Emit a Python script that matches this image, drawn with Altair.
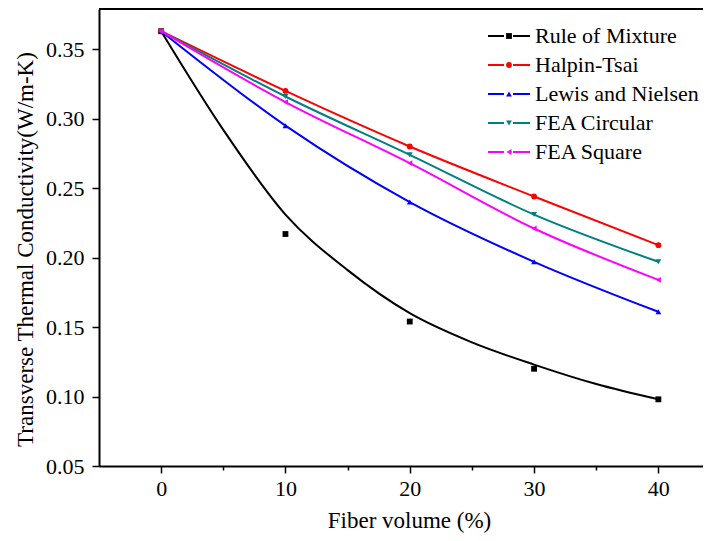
import altair as alt
import pandas as pd

# ---- data ----
x_vals = [0, 10, 20, 30, 40]
series_names = ["Rule of Mixture", "Halpin-Tsai", "Lewis and Nielsen", "FEA Circular", "FEA Square"]
rule_of_mixture = [0.363, 0.217, 0.154, 0.120, 0.098]
halpin_tsai = [0.363, 0.320, 0.280, 0.244, 0.209]
lewis_nielsen = [0.363, 0.295, 0.240, 0.197, 0.161]
fea_circular = [0.363, 0.316, 0.274, 0.231, 0.197]
fea_square = [0.363, 0.312, 0.268, 0.221, 0.184]

# fitted curve through the Rule of Mixture points
fit_x = [0, 5, 10, 15, 20, 25, 30, 35, 40]
fit_y = [0.363, 0.292, 0.231, 0.191, 0.160, 0.139, 0.123, 0.109, 0.098]

colors = ["#000000", "#ff0000", "#0000ff", "#008080", "#ff00ff"]
shapes = ["square", "circle", "triangle-up", "triangle-down", "triangle-left"]

x_ticks = [0, 5, 10, 15, 20, 25, 30, 35, 40]
y_ticks = [0.05, 0.075, 0.10, 0.125, 0.15, 0.175, 0.20, 0.225, 0.25, 0.275, 0.30, 0.325, 0.35, 0.375]

# ---- build tables ----
rows = []
for name, vals in zip(series_names, [rule_of_mixture, halpin_tsai, lewis_nielsen, fea_circular, fea_square]):
    for xv, yv in zip(x_vals, vals):
        rows.append({"series": name, "x": xv, "y": yv})
df = pd.DataFrame(rows)
fit_df = pd.DataFrame({"x": fit_x, "y": fit_y})

W, H = 604, 457
FONT = "Times New Roman, Liberation Serif, serif"

xscale = alt.Scale(domain=[-5, 43.59], nice=False, zero=False)
yscale = alt.Scale(domain=[0.05, 0.379], nice=False, zero=False)
color = alt.Color("series:N", scale=alt.Scale(domain=series_names, range=colors), legend=None)
shape = alt.Shape("series:N", scale=alt.Scale(domain=series_names, range=shapes), legend=None)

x_axis = alt.Axis(
    values=x_ticks,
    labelExpr="datum.value % 10 === 0 ? datum.label : ''",
    tickSize={"condition": {"test": "datum.value % 10 === 0", "value": 7}, "value": 4},
    title="Fiber volume (%)",
    labelPadding=5,
    titlePadding=10,
    titleX=310,
)
y_axis = alt.Axis(
    values=y_ticks,
    labelExpr="round(datum.value*1000) % 50 === 0 ? format(datum.value, '.2f') : ''",
    tickSize={"condition": {"test": "round(datum.value*1000) % 50 === 0", "value": 7}, "value": 4},
    title="Transverse Thermal Conductivity(W/m-K)",
    labelPadding=8,
    titlePadding=8,
    titleY=240,
)

X = alt.X("x:Q", scale=xscale, axis=x_axis)
Y = alt.Y("y:Q", scale=yscale, axis=y_axis)

base = alt.Chart(df)

lines = base.transform_filter(alt.datum.series != "Rule of Mixture").mark_line(
    strokeWidth=2, interpolate="monotone"
).encode(x=X, y=Y, color=color, detail="series:N")

fit_line = alt.Chart(fit_df).mark_line(color="black", strokeWidth=2, interpolate="monotone").encode(
    x=alt.X("x:Q", scale=xscale), y=alt.Y("y:Q", scale=yscale)
)

points = base.mark_point(filled=True, opacity=1, size=34).encode(
    x=alt.X("x:Q", scale=xscale), y=alt.Y("y:Q", scale=yscale), color=color, shape=shape
)

top_border = alt.Chart(pd.DataFrame({"a": [0]})).mark_rule(color="black", strokeWidth=2).encode(
    x=alt.value(0), x2=alt.value(W), y=alt.value(0)
)

# ---- manual legend (line - marker - line, then label) ----
leg_layers = []
leg_y0, leg_dy = 27, 29
for i, name in enumerate(series_names):
    d = alt.Chart(pd.DataFrame({"series": [name]}))
    yy = alt.value(leg_y0 + leg_dy * i)
    leg_layers.append(d.mark_rule(strokeWidth=2).encode(x=alt.value(389), x2=alt.value(405), y=yy, color=color))
    leg_layers.append(d.mark_rule(strokeWidth=2).encode(x=alt.value(414), x2=alt.value(431), y=yy, color=color))
    leg_layers.append(d.mark_point(filled=True, opacity=1, size=34).encode(x=alt.value(410), y=yy, color=color, shape=shape))
    leg_layers.append(d.mark_text(align="left", baseline="middle", font=FONT, fontSize=22, color="black").encode(
        x=alt.value(436), y=yy, text="series:N"))

chart = alt.layer(lines, fit_line, points, top_border, *leg_layers).properties(
    width=W, height=H, autosize="none",
    padding={"left": 91, "top": 1, "right": 0, "bottom": 70},
).configure_view(stroke=None).configure_axis(
    grid=False,
    domainColor="black", domainWidth=2,
    tickColor="black", tickWidth=1.5,
    labelFont=FONT, labelFontSize=22, labelColor="black",
    titleFont=FONT, titleFontSize=23, titleFontWeight="normal", titleColor="black",
)

chart.save("out.html", embed_options={"renderer": "svg", "actions": False})
